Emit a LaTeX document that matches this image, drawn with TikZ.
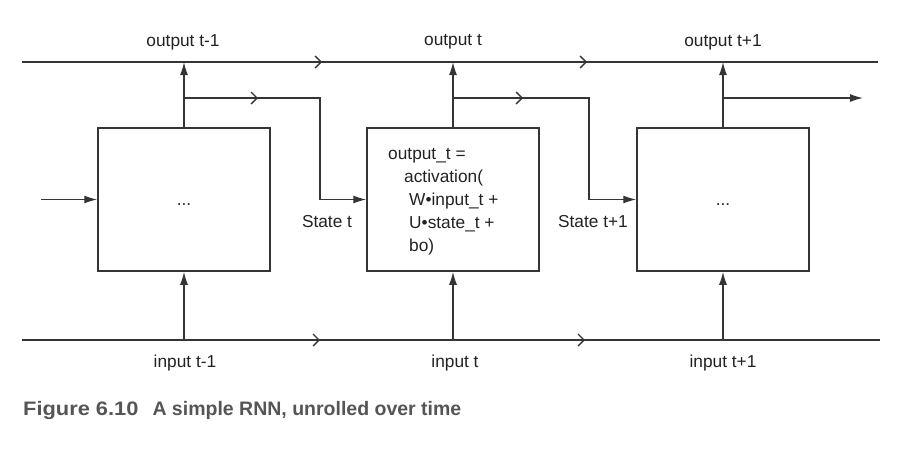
\documentclass[tikz,border=0pt]{standalone}
\usepackage{fontspec}
\setmainfont{Liberation Sans}
\usetikzlibrary{arrows.meta,decorations.markings}
\definecolor{ln}{HTML}{353535}
\definecolor{tx}{HTML}{222222}
\definecolor{capc}{HTML}{555555}
\begin{document}
\begin{tikzpicture}[x=1pt,y=-1pt,
  wire/.style={draw=ln,line width=1.3pt},
  tip/.style={-{Latex[length=13pt,width=8pt]}},
  cell/.style={draw=ln,line width=1.5pt,minimum width=172pt,minimum height=143pt,inner sep=0pt},
  lbl/.style={text=tx,font=\fontsize{17.3}{20}\selectfont,inner sep=0pt},
  chevtwo/.style 2 args={postaction={decorate},decoration={markings,
     mark=at position #1 with {\arrow{Straight Barb[length=6pt,width=12pt]}},
     mark=at position #2 with {\arrow{Straight Barb[length=6pt,width=12pt]}}}},
  chevone/.style={postaction={decorate},decoration={markings,
     mark=at position #1 with {\arrow{Straight Barb[length=6pt,width=12pt]}}}}
]
\useasboundingbox (0,0) rectangle (920,448);

% cells
\node[cell] (c1) at (184,199.5) {};
\node[cell] (c2) at (453,199.5) {};
\node[cell] (c3) at (723,199.5) {};

% coordinates
\coordinate (tl) at (22,62);
\coordinate (tr) at (878,62);
\coordinate (bl) at (22,340);
\coordinate (br) at (880,340);
\coordinate (o1) at (184,62);
\coordinate (o2) at (453,62);
\coordinate (o3) at (723,62);
\coordinate (i1) at (184,340);
\coordinate (i2) at (453,340);
\coordinate (i3) at (723,340);
\coordinate (s1) at (184,98);
\coordinate (s2) at (453,98);
\coordinate (s3) at (723,98);
\coordinate (k1) at (320,98);
\coordinate (k2) at (589,98);
\coordinate (e3) at (863,98);
\coordinate (in0) at (41,199.5);

% horizontal buses
\draw[wire,chevtwo={300pt}{565pt}] (tl) -- (tr);
\draw[wire,chevtwo={298pt}{563pt}] (bl) -- (br);

% outputs
\draw[wire,tip] (c1.north) -- (o1);
\draw[wire,tip] (c2.north) -- (o2);
\draw[wire,tip] (c3.north) -- (o3);

% inputs
\draw[wire,tip] (i1) -- (c1.south);
\draw[wire,tip] (i2) -- (c2.south);
\draw[wire,tip] (i3) -- (c3.south);

% state
\draw[wire,tip] (in0) -- (c1.west);
\draw[wire,tip,chevone=74pt] (s1) -- (k1) |- (c2.west);
\draw[wire,tip,chevone=70pt] (s2) -- (k2) |- (c3.west);
\draw[wire,tip] (s3) -- (e3);

% labels
\node[lbl] (lo1) at (183,42) {output t-1};
\node[lbl] (lo2) at (453,42) {output t};
\node[lbl] (lo3) at (723,42) {output t+1};
\node[lbl] (li1) at (185,363) {input t-1};
\node[lbl] (li2) at (455,363) {input t};
\node[lbl] (li3) at (723,363) {input t+1};
\node[lbl] (ls1) at (327,222) {State t};
\node[lbl] (ls2) at (593,222) {State t+1};
\node[lbl] (d1) at (184,205) {...};
\node[lbl] (d3) at (723,205) {...};

% cell text
\node[lbl,anchor=base west] (f1) at (388,159) {output\_t =};
\node[lbl,anchor=base west] (f2) at (404,182) {activation(};
\node[lbl,anchor=base west] (f3) at (409,205) {W•input\_t +};
\node[lbl,anchor=base west] (f4) at (409,228) {U•state\_t +};
\node[lbl,anchor=base west] (f5) at (409,251) {bo)};

% caption
\node[anchor=base west,text=capc,font=\bfseries\fontsize{19.5}{22}\selectfont,inner sep=0pt] (capn) at (23,415) {\scalebox{1.12}[1]{Figure 6.10}\hspace{14pt}A simple RNN, unrolled over time};
\end{tikzpicture}
\end{document}
